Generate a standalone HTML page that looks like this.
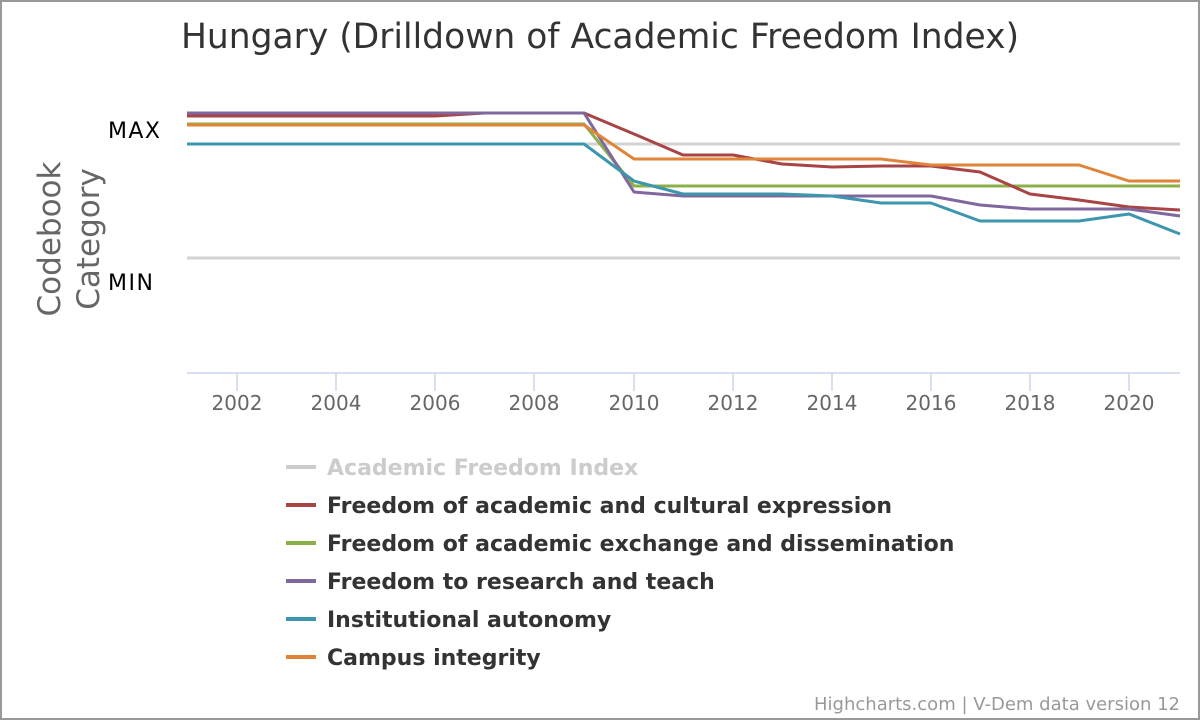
<!DOCTYPE html>
<html><head><meta charset="utf-8"><style>
html,body{margin:0;padding:0;background:#fff}
svg{display:block;font-family:"DejaVu Sans","Liberation Sans",sans-serif}
</style></head><body>
<svg width="1200" height="720" xmlns="http://www.w3.org/2000/svg">
<rect x="1" y="1" width="1198" height="718" fill="#fff" stroke="#999" stroke-width="2"/>
<text x="600" y="48" text-anchor="middle" font-size="34.5" fill="#333">Hungary (Drilldown of Academic Freedom Index)</text>
<g fill="#666" font-size="31">
<text transform="translate(60,239) rotate(-90)" text-anchor="middle">Codebook</text>
<text transform="translate(99,239) rotate(-90)" text-anchor="middle">Category</text>
</g>
<text x="108" y="138" font-size="22" fill="#000" textLength="52">MAX</text>
<text x="108" y="290" font-size="22" fill="#000" textLength="45">MIN</text>
<line x1="187" y1="144" x2="1180" y2="144" stroke="#d3d3d3" stroke-width="3"/>
<line x1="187" y1="258" x2="1180" y2="258" stroke="#d3d3d3" stroke-width="3"/>
<line x1="187" y1="373" x2="1180" y2="373" stroke="#ccd6eb" stroke-width="1.5"/>
<g stroke="#ccd6eb" stroke-width="1.5">
<line x1="237" y1="373" x2="237" y2="391"/><line x1="336" y1="373" x2="336" y2="391"/><line x1="435" y1="373" x2="435" y2="391"/><line x1="534" y1="373" x2="534" y2="391"/><line x1="634" y1="373" x2="634" y2="391"/><line x1="733" y1="373" x2="733" y2="391"/><line x1="832" y1="373" x2="832" y2="391"/><line x1="931" y1="373" x2="931" y2="391"/><line x1="1030" y1="373" x2="1030" y2="391"/><line x1="1129" y1="373" x2="1129" y2="391"/>
</g>
<g fill="#666" font-size="20" text-anchor="middle">
<text x="237" y="410">2002</text><text x="336" y="410">2004</text><text x="435" y="410">2006</text><text x="534" y="410">2008</text><text x="634" y="410">2010</text><text x="733" y="410">2012</text><text x="832" y="410">2014</text><text x="931" y="410">2016</text><text x="1030" y="410">2018</text><text x="1129" y="410">2020</text>
</g>
<g fill="none" stroke-width="3" stroke-linejoin="round">
<polyline stroke="#8bb04a" points="187,124 584,124 634,186 1180,186"/>
<polyline stroke="#a84444" points="187,116 435,116 485,113 584,113 634,134 683,155 733,155 782,164 832,167 881,166 931,166 980,172 1030,194 1079,200 1129,207 1180,210"/>
<polyline stroke="#80679e" points="187,113 584,113 634,192 683,196 931,196 980,205 1030,209 1129,209 1180,216"/>
<polyline stroke="#3d96ae" points="187,144 584,144 634,181 683,194 782,194 832,196 881,203 931,203 980,221 1079,221 1129,214 1180,234"/>
<polyline stroke="#e0843a" points="187,125 584,125 634,159 881,159 931,165 1079,165 1129,181 1180,181"/>
</g>
<g font-size="22" font-weight="bold" fill="#333">
<line x1="286" y1="467" x2="316" y2="467" stroke="#ccc" stroke-width="4"/><text x="327" y="475" fill="#ccc">Academic Freedom Index</text>
<line x1="286" y1="505" x2="316" y2="505" stroke="#a84444" stroke-width="4"/><text x="327" y="513">Freedom of academic and cultural expression</text>
<line x1="286" y1="543" x2="316" y2="543" stroke="#8bb04a" stroke-width="4"/><text x="327" y="551">Freedom of academic exchange and dissemination</text>
<line x1="286" y1="581" x2="316" y2="581" stroke="#80679e" stroke-width="4"/><text x="327" y="589">Freedom to research and teach</text>
<line x1="286" y1="619" x2="316" y2="619" stroke="#3d96ae" stroke-width="4"/><text x="327" y="627">Institutional autonomy</text>
<line x1="286" y1="657" x2="316" y2="657" stroke="#e0843a" stroke-width="4"/><text x="327" y="665">Campus integrity</text>
</g>
<text x="1180" y="710" text-anchor="end" font-size="18" fill="#999">Highcharts.com | V-Dem data version 12</text>
</svg>
</body></html>
